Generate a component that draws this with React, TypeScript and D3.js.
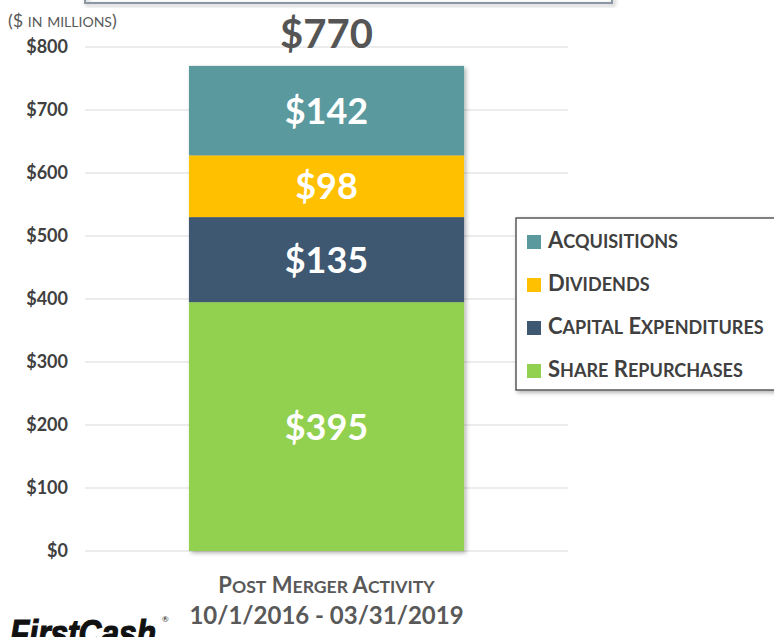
import React from "react";
import * as d3 from "d3";

const categories = ["Post Merger Activity"];
const seriesNames = ["Share Repurchases", "Capital Expenditures", "Dividends", "Acquisitions"];
const seriesValues = [395, 135, 98, 142];
const seriesColors = ["#92D050", "#3D5870", "#FFC000", "#5A999E"];
const legendOrder = ["Acquisitions", "Dividends", "Capital Expenditures", "Share Repurchases"];
const yTicks = [0, 100, 200, 300, 400, 500, 600, 700, 800];
const total = 770;

const W = 774;
const H = 637;
const FONT = "Lato, 'Open Sans', sans-serif";

function SmallCaps({ text, size, ratio = 0.8 }: { text: string; size: number; ratio?: number }) {
  const parts: { s: string; small: boolean }[] = [];
  for (const ch of text) {
    const small = ch !== ch.toUpperCase();
    const last = parts[parts.length - 1];
    if (last && last.small === small) last.s += ch.toUpperCase();
    else parts.push({ s: ch.toUpperCase(), small });
  }
  return (
    <>
      {parts.map((p, i) => (
        <tspan key={i} fontSize={p.small ? size * ratio : size}>
          {p.s}
        </tspan>
      ))}
    </>
  );
}

export default function App() {
  const y = d3.scaleLinear().domain([0, 800]).range([551, 47]);
  const x = d3.scaleBand().domain(categories).range([85, 568]).paddingInner(0).paddingOuter(0.378);
  const bw = x.bandwidth();
  const bx = x(categories[0]) as number;

  const row: Record<string, number> = {};
  seriesNames.forEach((n, i) => (row[n] = seriesValues[i]));
  const stacked = d3.stack<Record<string, number>>().keys(seriesNames)([row]);
  const color = d3.scaleOrdinal<string, string>().domain(seriesNames).range(seriesColors);
  const cx = bx + bw / 2;

  return (
    <svg width={W} height={H} style={{ position: "absolute", left: 0, top: 0, background: "#fff" }}>
      <defs>
        <filter id="sh" x="-10%" y="-10%" width="130%" height="130%">
          <feDropShadow dx="2" dy="2" stdDeviation="2" floodColor="#000" floodOpacity="0.3" />
        </filter>
      </defs>
      <rect width={W} height={H} fill="#fff" />
      {/* top frame remnant */}
      <rect x={85} y={-20} width={527} height={23} fill="none" stroke="#8a96a3" strokeWidth={2} filter="url(#sh)" />
      <text x={8} y={27} fontFamily={FONT} fill="#595959">
        <SmallCaps text="($ in millions)" size={18} ratio={0.78} />
      </text>
      {yTicks.map((t) => (
        <g key={t}>
          <line x1={85} x2={568} y1={y(t)} y2={y(t)} stroke="#d9d9d9" strokeWidth={1} />
          <text x={68} y={y(t)} dy="0.35em" textAnchor="end" fontFamily={FONT} fontWeight={700} fontSize={18} fill="#404040">
            {d3.format("$,")(t)}
          </text>
        </g>
      ))}
      <g filter="url(#sh)">
        {stacked.map((s) => (
          <rect key={s.key} x={bx} width={bw} y={y(s[0][1])} height={y(s[0][0]) - y(s[0][1])} fill={color(s.key)} />
        ))}
      </g>
      {stacked.map((s) => (
        <text key={s.key} x={cx} y={(y(s[0][0]) + y(s[0][1])) / 2} dy="0.36em" textAnchor="middle" fontFamily={FONT} fontWeight={700} fontSize={36} fill="#fff">
          {"$" + (s[0][1] - s[0][0])}
        </text>
      ))}
      <text x={cx} y={y(total) - 18} textAnchor="middle" fontFamily={FONT} fontWeight={700} fontSize={40} fill="#555">
        {"$" + total}
      </text>
      <text x={cx} y={593} textAnchor="middle" fontFamily={FONT} fontWeight={700} fill="#595959">
        <SmallCaps text="Post Merger Activity" size={22} ratio={0.8} />
      </text>
      <text x={cx} y={624} textAnchor="middle" fontFamily={FONT} fontWeight={700} fontSize={24} fill="#595959">
        10/1/2016 - 03/31/2019
      </text>
      {/* legend */}
      <rect x={516} y={218} width={270} height={172} fill="#fff" stroke="#595959" strokeWidth={1.5} filter="url(#sh)" />
      {legendOrder.map((n, i) => (
        <g key={n}>
          <rect x={527} y={235 + i * 43} width={14} height={14} fill={color(n)} />
          <text x={548} y={242 + i * 43} dy="0.36em" fontFamily={FONT} fontWeight={700} fill="#404040">
            <SmallCaps text={n} size={22} ratio={0.82} />
          </text>
        </g>
      ))}
      {/* logo */}
      <text x={10} y={646} fontFamily="'Liberation Sans', Arial, sans-serif" fontWeight={700} fontStyle="italic" fontSize={36} fill="#111" stroke="#111" strokeWidth={1.2} textLength={146} lengthAdjust="spacingAndGlyphs">
        FirstCash
      </text>
      <text x={162} y={622} fontFamily={FONT} fontSize={8} fill="#111">®</text>
    </svg>
  );
}
